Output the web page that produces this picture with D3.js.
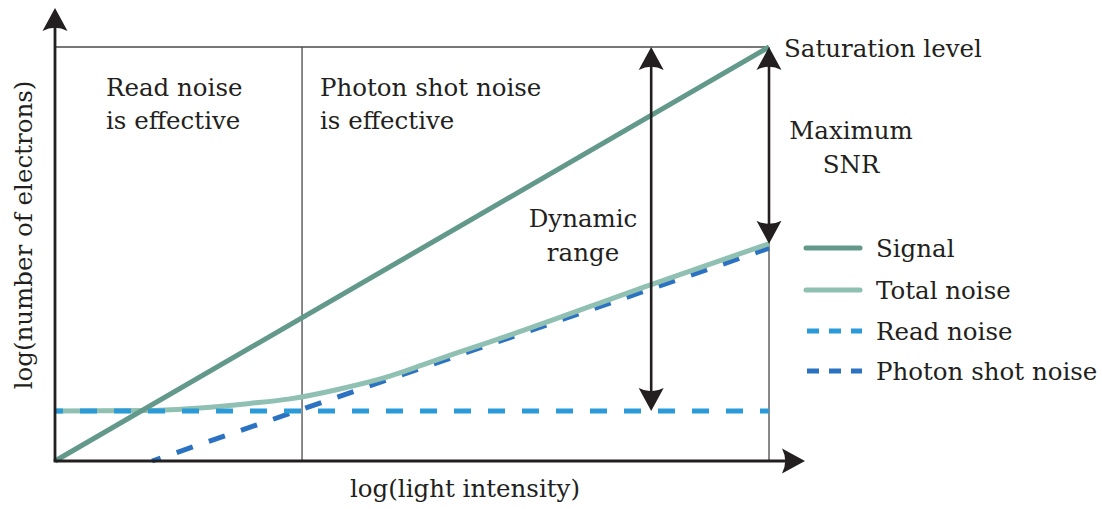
<!DOCTYPE html>
<html>
<head>
<meta charset="utf-8">
<script src="https://cdn.jsdelivr.net/npm/d3@7"></script>
<style>
  html, body { margin: 0; padding: 0; background: #fff; }
  svg { display: block; }
  text { font-family: "DejaVu Serif", serif; fill: #231f20; }
</style>
</head>
<body>
<svg id="chart" width="1102" height="509"></svg>
<script>
// Values are in arbitrary log units (0–10 on both axes)
const signalX = [0, 10];
const signalY = [0, 10];
const readNoiseX = [0, 10];
const readNoiseY = [1.21, 1.21];
const shotNoiseX = [1.36, 10];
const shotNoiseY = [0, 5.14];
const totalNoiseX = [0, 1.33, 2.03, 2.73, 3.29, 3.99, 4.69, 5.15, 5.63, 6.37, 8.33, 10];
const totalNoiseY = [1.21, 1.22, 1.28, 1.39, 1.50, 1.74, 2.05, 2.32, 2.61, 3.04, 4.25, 5.25];
const regionBoundaryX = 3.46;   // read-noise / shot-noise regime boundary
const dynamicRangeX = 8.35;
const saturationY = 10;
const legendLabels = ["Signal", "Total noise", "Read noise", "Photon shot noise"];

const svg = d3.select("#chart");
const x = d3.scaleLinear().domain([0, 10]).range([55, 769]);
const y = d3.scaleLinear().domain([0, 10]).range([461, 47]);

const colors = {
  signal: "#62998a",
  total: "#8fc0b2",
  read: "#2a9bd8",
  shot: "#2b72c2",
  ink: "#231f20",
  frame: "#4a4a4a"
};

const zip = (xs, ys) => xs.map((v, i) => [v, ys[i]]);
const line = d3.line().x(d => x(d[0])).y(d => y(d[1]));
const smooth = d3.line().x(d => x(d[0])).y(d => y(d[1])).curve(d3.curveMonotoneX);

// Arrowhead with notched back, tip at (tx, ty), pointing along angle (deg)
function arrowHead(g, tx, ty, angle, L = 23, W = 25) {
  const p = d3.path();
  p.moveTo(0, 0);
  p.lineTo(-L, -W / 2);
  p.quadraticCurveTo(-0.72 * L, 0, -L, W / 2);
  p.closePath();
  g.append("path")
    .attr("d", p.toString())
    .attr("transform", `translate(${tx},${ty}) rotate(${angle})`)
    .attr("fill", colors.ink);
}

// Frame: saturation level and regime separators
const frame = svg.append("g").attr("stroke", colors.frame).attr("stroke-width", 1.3).attr("fill", "none");
frame.append("line").attr("x1", x(0)).attr("x2", x(10)).attr("y1", y(saturationY)).attr("y2", y(saturationY));
frame.append("line").attr("x1", x(regionBoundaryX)).attr("x2", x(regionBoundaryX)).attr("y1", y(saturationY)).attr("y2", y(0));
frame.append("line").attr("x1", x(10)).attr("x2", x(10)).attr("y1", y(saturationY)).attr("y2", y(0));

// Curves
const curves = svg.append("g").attr("fill", "none").attr("stroke-width", 5);
curves.append("path").datum(zip(shotNoiseX, shotNoiseY)).attr("d", line)
  .attr("stroke", colors.shot).attr("stroke-dasharray", "17,17").attr("stroke-dashoffset", 8);
curves.append("path").datum(zip(totalNoiseX, totalNoiseY)).attr("d", smooth)
  .attr("stroke", colors.total);
curves.append("path").datum(zip(readNoiseX, readNoiseY)).attr("d", line)
  .attr("stroke", colors.read).attr("stroke-dasharray", "17,17").attr("stroke-dashoffset", 9);
curves.append("path").datum(zip(signalX, signalY)).attr("d", line)
  .attr("stroke", colors.signal);

// Axes with arrows
const axes = svg.append("g");
axes.append("line").attr("x1", x(0)).attr("y1", y(0)).attr("x2", x(0)).attr("y2", 16)
  .attr("stroke", colors.ink).attr("stroke-width", 2.8);
axes.append("line").attr("x1", x(0) - 1.4).attr("y1", y(0)).attr("x2", 796).attr("y2", y(0))
  .attr("stroke", colors.ink).attr("stroke-width", 2.8);
arrowHead(axes, x(0), 8, -90);
arrowHead(axes, 805, y(0), 0);

// Double-headed arrows: dynamic range and maximum SNR
function doubleArrow(xv, y0, y1) {
  const g = svg.append("g");
  g.append("line").attr("x1", x(xv)).attr("x2", x(xv)).attr("y1", y(y0) - 12).attr("y2", y(y1) + 12)
    .attr("stroke", colors.ink).attr("stroke-width", 2.6);
  arrowHead(g, x(xv), y(y0), 90);
  arrowHead(g, x(xv), y(y1), -90);
}
doubleArrow(dynamicRangeX, readNoiseY[0], saturationY);
doubleArrow(10, totalNoiseY[totalNoiseY.length - 1], saturationY);

// Annotations
const fs = 24.5;
function label(lines, tx, ty, anchor = "start", dy = 33) {
  const t = svg.append("text").attr("font-size", fs).attr("text-anchor", anchor);
  lines.forEach((s, i) => t.append("tspan").attr("x", tx).attr("y", ty + i * dy).text(s));
}
label(["Read noise", "is effective"], 106, 96);
label(["Photon shot noise", "is effective"], 320, 96);
label(["Saturation level"], 784, 57);
label(["Maximum", "SNR"], 851, 139, "middle", 34);
label(["Dynamic", "range"], 583, 227, "middle", 34);

// Axis titles
svg.append("text").attr("font-size", fs).attr("text-anchor", "middle")
  .attr("x", 465).attr("y", 497).text("log(light intensity)");
svg.append("text").attr("font-size", fs).attr("text-anchor", "middle")
  .attr("transform", "translate(32,235) rotate(-90)").text("log(number of electrons)");

// Legend
const legendStyles = [
  { color: colors.signal, dash: null },
  { color: colors.total, dash: null },
  { color: colors.read, dash: "12,10" },
  { color: colors.shot, dash: "12,10" }
];
const legendY = [248, 290, 331, 371];
const legend = svg.append("g");
legendLabels.forEach((name, i) => {
  const st = legendStyles[i];
  const ln = legend.append("line")
    .attr("x1", st.dash ? 805 : 806).attr("x2", st.dash ? 862 : 860)
    .attr("y1", legendY[i]).attr("y2", legendY[i])
    .attr("stroke", st.color).attr("stroke-width", 5);
  if (st.dash) ln.attr("stroke-dasharray", st.dash).attr("stroke-dashoffset", -2);
  else ln.attr("stroke-linecap", "round");
  legend.append("text").attr("font-size", fs).attr("x", 876).attr("y", legendY[i] + 9).text(name);
});
</script>
</body>
</html>
